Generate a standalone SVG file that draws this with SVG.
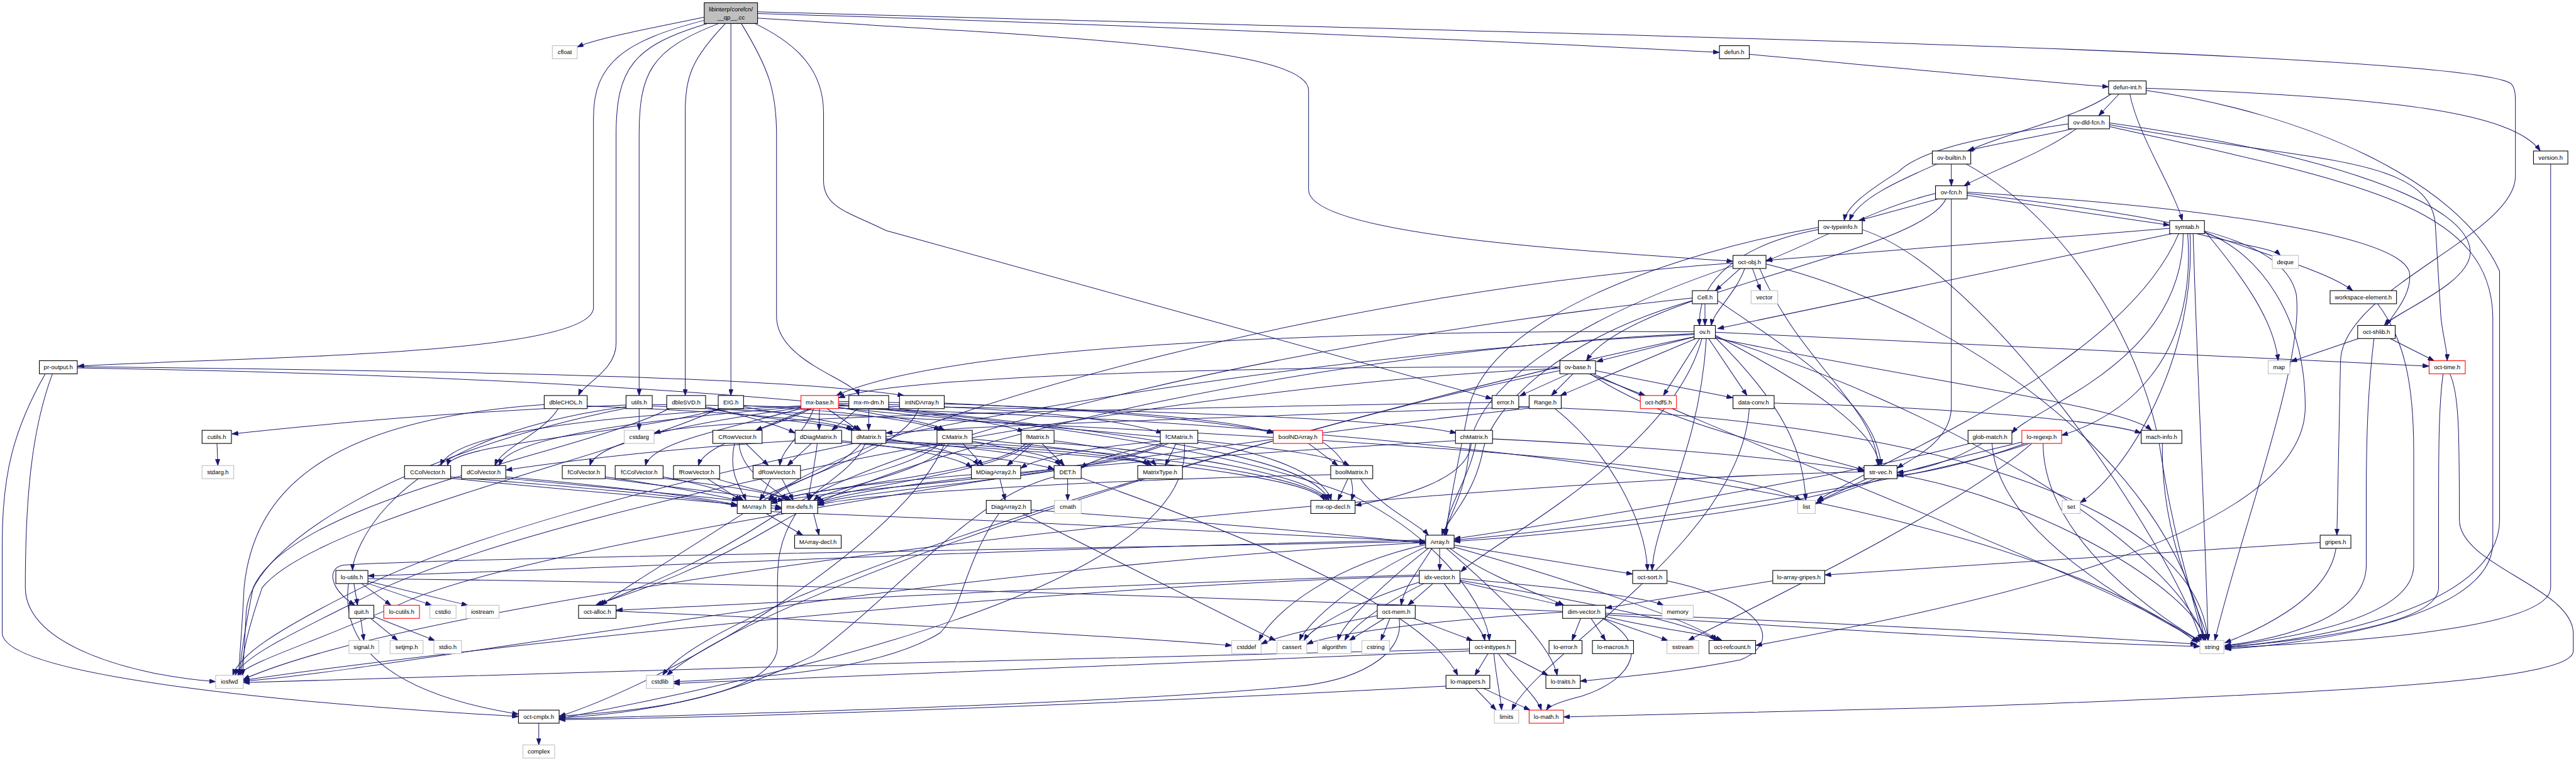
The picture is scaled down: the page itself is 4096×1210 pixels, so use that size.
<svg xmlns="http://www.w3.org/2000/svg" width="4096" height="1210" viewBox="0 0 4096 1210">
<style>
.n rect{fill:#fff;stroke:#000;stroke-width:1.5}
.n.x rect{stroke:#bfbfbf}
.n.t rect{stroke:#f00}
.n.r rect{fill:#bfbfbf}
.n text{font-family:"Liberation Sans",Arial,Helvetica,sans-serif;font-size:13.3px;text-anchor:middle;fill:#000}
.e path{fill:none;stroke:#191970;stroke-width:1.4;marker-end:url(#a)}
</style>
<defs>
<marker id="a" viewBox="0 0 14 10" refX="14" refY="5" markerWidth="14" markerHeight="10" markerUnits="userSpaceOnUse" orient="auto"><path d="M0,0 L14,5 L0,10 z" fill="#191970" stroke="#191970" stroke-width="1"/></marker>
</defs>
<rect width="4096" height="1210" fill="#fff"/>
<g transform="scale(0.71872)">
<g id="edges" class="e">
<path d="M1558,38 C1450,60 1320,85 1277,104"/>
<path d="M1562,44 C1380,90 1313,140 1313,260 L1313,680 C1313,790 500,790 172,810"/>
<path d="M1572,50 C1400,100 1363,150 1363,300 L1363,760 C1363,820 1290,850 1280,875"/>
<path d="M1590,52 C1440,110 1414,160 1414,300 L1414,875"/>
<path d="M1605,52 C1530,130 1516,170 1516,250 L1516,875"/>
<path d="M1617,52 L1617,875"/>
<path d="M1640,52 C1700,150 1718,200 1718,300 L1718,700 C1718,800 1890,840 1900,875"/>
<path d="M1670,52 C1770,100 1822,160 1822,250 L1822,400 C1822,460 1880,470 1960,510 L3301,882"/>
<path d="M1676,30 C2400,50 3400,95 3804,116"/>
<path d="M1676,26 C3200,70 5450,110 5555,185 C5565,195 5565,210 5565,230 L5565,390 C5565,520 5180,640 5178,800 L5170,1184"/>
<path d="M1676,40 C2300,80 2895,100 2895,200 L2895,420 C2895,520 3500,555 3834,578"/>
<path d="M3870,120 C4200,150 4500,180 4665,192"/>
<path d="M4670,208 C4600,260 4420,300 4355,334"/>
<path d="M4688,208 L4643,256"/>
<path d="M4712,208 C4730,300 4810,420 4828,488"/>
<path d="M4748,195 C5300,215 5560,250 5620,334"/>
<path d="M4748,200 C5100,250 5440,400 5530,600 L5530,1150 C5530,1350 5100,1420 4922,1431"/>
<path d="M5643,363 L5643,1300 C5643,1400 5100,1425 4922,1433"/>
<path d="M4585,285 C4500,305 4400,320 4352,334"/>
<path d="M4593,285 C4520,340 4400,380 4345,411"/>
<path d="M4576,274 C4400,300 4250,330 4200,380 C4120,430 4085,460 4080,488"/>
<path d="M4667,272 C5150,340 5470,450 5465,561 C5460,630 5300,690 5275,720"/>
<path d="M4667,276 C5100,360 5380,340 5388,500 L5400,700 C5405,750 5414,770 5414,798"/>
<path d="M4667,280 C5200,400 5510,450 5515,700 L5515,1200 C5515,1370 5100,1425 4922,1436"/>
<path d="M4317,363 L4317,411"/>
<path d="M4285,363 C4200,400 4110,440 4092,488"/>
<path d="M4350,363 C4600,500 4750,800 4780,1000 C4810,1200 4860,1350 4875,1417"/>
<path d="M4352,432 L4800,498"/>
<path d="M4288,440 L4112,488"/>
<path d="M4282,428 C4150,460 4050,520 3907,578"/>
<path d="M4305,440 C4250,560 3600,650 3510,798"/>
<path d="M4317,440 L4317,900 C4317,980 4220,1020 4197,1036"/>
<path d="M4352,425 C4900,460 5300,520 5330,600 C5340,650 5290,700 5280,720"/>
<path d="M4352,428 C4800,480 5050,520 5080,650 C5100,800 4950,1200 4900,1417"/>
<path d="M4800,505 C4500,530 4100,560 3907,576"/>
<path d="M4805,517 L3800,727"/>
<path d="M4860,517 C4950,540 5030,550 5045,565"/>
<path d="M4820,517 C4700,800 4200,1000 4020,1107"/>
<path d="M4877,510 C4950,600 5030,700 5040,798"/>
<path d="M4845,517 C4860,800 4700,1050 4602,1112"/>
<path d="M4852,517 C4860,800 4880,1200 4885,1417"/>
<path d="M4830,517 C4830,800 4500,900 4451,958"/>
<path d="M4840,517 C4860,800 4700,920 4561,963"/>
<path d="M4877,515 C5000,560 5150,600 5205,643"/>
<path d="M4877,513 C5000,560 5100,700 5100,900 C5100,1200 4300,1350 3884,1428"/>
<path d="M4023,508 C3850,540 3755,620 3760,720"/>
<path d="M4023,503 C3700,560 3300,700 3250,900 C3220,1050 3200,1150 3200,1184"/>
<path d="M4120,508 C4400,600 4800,1200 4870,1417"/>
<path d="M3850,594 L3795,643"/>
<path d="M3860,594 C3840,650 3790,690 3786,720"/>
<path d="M3877,594 L3895,643"/>
<path d="M3893,594 C3980,800 4150,900 4155,1030"/>
<path d="M3907,584 C4300,680 4800,1000 4878,1417"/>
<path d="M3834,588 C3500,700 3260,850 3250,1000 C3240,1100 3200,1150 3195,1184"/>
<path d="M3834,582 C3000,640 2000,900 1700,1100 C1500,1230 1380,1300 1330,1339"/>
<path d="M3772,672 L3772,720"/>
<path d="M3744,665 C3450,750 3300,900 3280,1000 C3260,1100 3200,1150 3190,1184"/>
<path d="M3744,659 C2900,750 2000,950 1700,1150 C1500,1280 1350,1320 1325,1339"/>
<path d="M3800,665 C4000,800 4150,900 4162,1030"/>
<path d="M3750,745 L3532,800"/>
<path d="M3752,749 L3452,875"/>
<path d="M3760,749 L3680,875"/>
<path d="M3780,749 L3865,875"/>
<path d="M3748,734 C3000,730 2100,760 1850,875"/>
<path d="M3795,735 L5374,810"/>
<path d="M3765,749 C3700,1000 3300,1200 3232,1265"/>
<path d="M3775,749 C3760,1000 3660,1150 3655,1262"/>
<path d="M3795,742 C4000,850 4150,950 4158,1030"/>
<path d="M3748,738 C3000,770 2050,960 1720,1160 C1500,1290 1360,1320 1318,1339"/>
<path d="M3795,745 C4300,900 4800,1200 4880,1417"/>
<path d="M3795,747 C3950,900 3990,1000 3995,1107"/>
<path d="M3748,740 C2500,800 1200,1100 800,1300 C600,1400 530,1450 515,1494"/>
<path d="M3748,745 C3000,900 1600,1300 1466,1494"/>
<path d="M3795,748 C4300,850 4700,900 4760,952"/>
<path d="M3470,827 L3362,876"/>
<path d="M3480,827 L3432,875"/>
<path d="M3515,827 L3640,875"/>
<path d="M3530,820 L3834,880"/>
<path d="M3451,812 C2800,810 2000,830 1855,880"/>
<path d="M3518,827 C3700,950 4000,1000 4124,1040"/>
<path d="M3525,827 C3900,1000 4700,1300 4868,1420"/>
<path d="M3451,815 C2600,850 1300,1100 850,1300 C650,1400 540,1450 520,1494"/>
<path d="M3451,820 C2800,950 1700,1300 1475,1494"/>
<path d="M3301,890 C2500,905 1600,920 1447,958"/>
<path d="M3360,900 C4200,920 4860,1100 4885,1417"/>
<path d="M3383,900 C2800,920 2200,940 1960,958"/>
<path d="M3440,904 C3560,1000 3640,1150 3645,1262"/>
<path d="M3383,903 C2500,1000 1200,1200 900,1330 C700,1420 560,1460 525,1494"/>
<path d="M3925,892 C4300,900 4650,930 4737,958"/>
<path d="M3870,904 C3850,1200 3400,1450 3345,1571"/>
<path d="M1772,898 C1300,920 1000,960 975,1030"/>
<path d="M1772,900 C1400,930 1120,970 1105,1030"/>
<path d="M1772,902 C1500,940 1320,980 1305,1030"/>
<path d="M1772,904 C1600,950 1440,980 1428,1030"/>
<path d="M1790,904 L1672,952"/>
<path d="M1795,904 C1700,950 1560,980 1545,1030"/>
<path d="M1800,904 C1780,960 1730,990 1725,1030"/>
<path d="M1813,904 L1812,952"/>
<path d="M1830,904 L1900,952"/>
<path d="M1850,900 C1950,920 2050,930 2090,952"/>
<path d="M1855,896 C2000,910 2200,930 2265,955"/>
<path d="M1855,892 C2200,900 2450,920 2572,958"/>
<path d="M1855,888 C2300,895 2700,920 2820,958"/>
<path d="M1855,902 C2300,950 2900,980 2985,1030"/>
<path d="M1855,898 C2600,905 3100,930 3222,958"/>
<path d="M1898,904 L1840,952"/>
<path d="M1922,904 L1922,952"/>
<path d="M1966,902 C2400,950 2900,1000 2940,1107"/>
<path d="M2032,904 C2000,1000 1750,1050 1700,1107"/>
<path d="M2089,892 C2500,910 2750,940 2817,958"/>
<path d="M1299,898 C1600,910 1850,930 1885,952"/>
<path d="M1235,904 C1200,960 1110,990 1095,1030"/>
<path d="M1204,895 C700,930 560,1100 540,1300 C535,1400 530,1450 528,1494"/>
<path d="M1561,900 C1650,920 1720,940 1759,958"/>
<path d="M1561,903 C1700,930 1860,940 1890,952"/>
<path d="M1480,904 C1300,1000 650,1100 560,1300 C540,1400 532,1460 530,1494"/>
<path d="M1645,900 C1750,920 1880,935 1905,952"/>
<path d="M1645,897 C1900,910 2050,935 2080,952"/>
<path d="M1595,904 C1400,960 1000,980 990,1030"/>
<path d="M1589,904 C1400,1000 700,1150 580,1300 C545,1400 535,1460 533,1494"/>
<path d="M1414,904 L1414,952"/>
<path d="M1385,896 C1000,910 700,940 513,960"/>
<path d="M1385,900 C1000,950 850,1100 800,1200 C785,1230 780,1250 780,1262"/>
<path d="M1385,903 C900,1000 560,1200 545,1350 L537,1494"/>
<path d="M1443,895 C2500,905 4300,1000 4862,1422"/>
<path d="M1443,898 C2500,950 3800,1000 3985,1107"/>
<path d="M116,827 C70,950 56,1100 56,1300 C56,1430 300,1495 477,1508"/>
<path d="M100,827 C30,950 5,1050 5,1200 L5,1400 C5,1500 700,1560 1147,1585"/>
<path d="M171,811 C900,820 1700,830 2000,875"/>
<path d="M171,814 C1200,830 2500,900 3000,1100 C3200,1200 3290,1350 3295,1417"/>
<path d="M480,981 L482,1030"/>
<path d="M1650,981 L1700,1030"/>
<path d="M1625,981 C1610,1050 1640,1080 1650,1107"/>
<path d="M1635,981 C1640,1050 1720,1080 1740,1107"/>
<path d="M1759,975 C1500,990 1250,1020 1119,1040"/>
<path d="M1795,981 L1742,1030"/>
<path d="M1808,981 C1800,1050 1790,1080 1788,1107"/>
<path d="M1862,975 C2000,990 2120,1010 2150,1035"/>
<path d="M1862,978 C2100,1000 2280,1020 2332,1038"/>
<path d="M1905,981 C1850,1050 1700,1080 1680,1107"/>
<path d="M1915,981 C1880,1050 1800,1080 1790,1107"/>
<path d="M1960,970 C2080,990 2150,1010 2165,1030"/>
<path d="M1960,973 C2150,990 2330,1010 2345,1030"/>
<path d="M1960,976 C2300,990 2520,1010 2540,1030"/>
<path d="M1960,979 C2400,1000 2900,1050 2930,1107"/>
<path d="M2080,981 C2000,1050 1750,1080 1700,1107"/>
<path d="M2100,981 C2050,1050 1830,1080 1800,1107"/>
<path d="M2130,981 L2175,1030"/>
<path d="M2151,976 C2250,995 2340,1010 2352,1030"/>
<path d="M2151,971 C2350,990 2520,1010 2548,1030"/>
<path d="M2151,980 C2500,1000 2900,1050 2935,1107"/>
<path d="M2090,981 C2000,1200 1500,1500 1237,1585"/>
<path d="M2270,981 C2200,1050 1780,1080 1705,1110"/>
<path d="M2280,981 C2200,1050 1850,1080 1805,1110"/>
<path d="M2285,981 L2228,1030"/>
<path d="M2305,981 L2355,1030"/>
<path d="M2332,975 C2450,990 2540,1010 2558,1030"/>
<path d="M2332,980 C2600,1000 2900,1050 2940,1107"/>
<path d="M2575,981 C2400,1060 1800,1080 1706,1114"/>
<path d="M2585,981 C2400,1060 1900,1080 1809,1116"/>
<path d="M2567,976 C2400,990 2290,1015 2258,1036"/>
<path d="M2570,981 C2480,1000 2410,1020 2392,1036"/>
<path d="M2602,981 L2578,1030"/>
<path d="M2650,978 C2800,1000 2930,1050 2945,1107"/>
<path d="M2620,981 C2650,1300 1700,1500 1237,1590"/>
<path d="M2895,981 L2960,1030"/>
<path d="M2926,978 C2990,1020 2998,1080 2990,1107"/>
<path d="M3255,981 C3250,1060 3100,1100 2998,1118"/>
<path d="M3302,971 C3700,990 4000,1020 4124,1042"/>
<path d="M3265,981 C3250,1060 3200,1120 3197,1184"/>
<path d="M3220,975 C2800,1000 2000,1050 1809,1112"/>
<path d="M2982,1059 L2960,1107"/>
<path d="M2944,1050 C2500,1060 1900,1090 1809,1118"/>
<path d="M3010,1059 C3050,1120 3140,1160 3160,1184"/>
<path d="M997,1055 C1300,1080 1550,1100 1631,1120"/>
<path d="M997,1058 C1300,1090 1600,1110 1729,1126"/>
<path d="M1119,1055 C1350,1075 1550,1100 1631,1117"/>
<path d="M1119,1058 C1400,1085 1650,1105 1729,1123"/>
<path d="M1339,1055 C1450,1070 1580,1095 1634,1107"/>
<path d="M1339,1058 C1500,1080 1680,1100 1735,1107"/>
<path d="M1467,1055 C1550,1070 1620,1090 1645,1107"/>
<path d="M1467,1058 C1600,1075 1720,1090 1745,1107"/>
<path d="M1565,1059 L1640,1107"/>
<path d="M1585,1059 C1650,1080 1730,1095 1750,1107"/>
<path d="M1705,1059 L1682,1107"/>
<path d="M1730,1059 L1755,1107"/>
<path d="M2212,1059 L2224,1107"/>
<path d="M2149,1050 C1900,1070 1750,1095 1706,1110"/>
<path d="M2362,1059 L2362,1107"/>
<path d="M2332,1055 C2150,1100 2000,1300 1800,1450 C1600,1550 1400,1580 1237,1588"/>
<path d="M2392,1057 C2800,1200 3150,1350 3225,1494"/>
<path d="M1695,1136 L1776,1184"/>
<path d="M1706,1132 C2200,1150 2900,1185 3154,1198"/>
<path d="M1800,1136 L1812,1184"/>
<path d="M1761,1136 C1720,1200 1720,1250 1720,1300 L1720,1430 C1720,1520 1500,1570 1237,1584"/>
<path d="M2281,1128 C2600,1150 2950,1180 3154,1202"/>
<path d="M2210,1136 C2130,1250 2130,1350 2080,1400 C1950,1480 1700,1500 1490,1508"/>
<path d="M2262,1136 L2822,1417"/>
<path d="M3185,1213 L3185,1262"/>
<path d="M3217,1206 L3612,1270"/>
<path d="M3168,1213 C3140,1260 3105,1300 3100,1339"/>
<path d="M3208,1213 C3280,1270 3420,1320 3460,1339"/>
<path d="M3200,1213 C3300,1300 3430,1420 3445,1494"/>
<path d="M3217,1210 C3500,1290 3760,1380 3800,1417"/>
<path d="M3154,1210 C3000,1280 2890,1380 2875,1417"/>
<path d="M3160,1213 C3050,1300 2970,1380 2960,1417"/>
<path d="M3154,1205 C2950,1250 2820,1350 2785,1417"/>
<path d="M3154,1200 C2000,1260 900,1480 538,1507"/>
<path d="M3154,1195 C2300,1210 1300,1260 814,1274"/>
<path d="M3154,1198 C2000,1220 1000,1235 760,1250 C725,1255 725,1300 785,1339"/>
<path d="M3230,1287 L3455,1339"/>
<path d="M3170,1291 L3115,1339"/>
<path d="M3195,1291 C3230,1340 3280,1390 3285,1417"/>
<path d="M3230,1284 C3500,1330 3760,1380 3795,1417"/>
<path d="M3230,1280 C3450,1300 3640,1320 3680,1339"/>
<path d="M3140,1288 C3000,1330 2900,1390 2885,1417"/>
<path d="M3150,1291 C3050,1340 2990,1390 2975,1417"/>
<path d="M3140,1275 C2200,1300 900,1450 538,1505"/>
<path d="M3140,1272 C2500,1290 1800,1330 1363,1350"/>
<path d="M3688,1285 C3900,1330 3950,1420 3850,1460 C3700,1490 3560,1500 3496,1507"/>
<path d="M3922,1285 L3552,1345"/>
<path d="M5133,1200 L4037,1272"/>
<path d="M5168,1213 C5150,1330 4980,1400 4922,1422"/>
<path d="M3047,1362 C2900,1390 2820,1410 2790,1425"/>
<path d="M3063,1368 L2985,1417"/>
<path d="M3075,1368 L3055,1417"/>
<path d="M3128,1368 L3258,1417"/>
<path d="M3095,1368 C3110,1450 3000,1510 2850,1520 C2400,1560 1600,1580 1237,1590"/>
<path d="M3457,1354 C3200,1370 2950,1400 2891,1425"/>
<path d="M3497,1368 L3478,1417"/>
<path d="M3520,1368 L3552,1417"/>
<path d="M3548,1368 L3690,1417"/>
<path d="M3552,1364 C3650,1390 3770,1400 3810,1417"/>
<path d="M3545,1368 C3650,1420 3620,1500 3500,1540 C3440,1555 3425,1565 3421,1571"/>
<path d="M3552,1360 C4000,1390 4500,1420 4867,1430"/>
<path d="M3292,1446 L3263,1494"/>
<path d="M3305,1446 C3310,1500 3320,1540 3322,1571"/>
<path d="M3315,1446 C3350,1500 3400,1540 3410,1571"/>
<path d="M3332,1446 L3425,1494"/>
<path d="M3251,1436 C2500,1450 1200,1490 538,1510"/>
<path d="M3251,1440 C2700,1460 1900,1500 1490,1512"/>
<path d="M3199,1518 C2600,1550 1800,1585 1237,1592"/>
<path d="M3264,1523 L3310,1571"/>
<path d="M3282,1523 L3385,1571"/>
<path d="M1192,1600 L1192,1648"/>
<path d="M783,1291 L791,1339"/>
<path d="M800,1291 L865,1339"/>
<path d="M812,1290 L955,1339"/>
<path d="M814,1286 L1035,1339"/>
<path d="M771,1291 C750,1450 900,1540 1147,1580"/>
<path d="M814,1280 C2500,1300 4200,1380 4860,1425"/>
<path d="M798,1368 L805,1417"/>
<path d="M820,1368 L880,1417"/>
<path d="M827,1364 L962,1417"/>
<path d="M1363,1352 C2000,1380 2500,1410 2725,1428"/>
<path d="M4131,1059 L4020,1110"/>
<path d="M4150,1059 C4000,1120 3500,1180 3217,1198"/>
<path d="M4124,1044 C3000,1070 1000,1300 538,1503"/>
<path d="M4197,1050 C4500,1100 4850,1300 4880,1417"/>
<path d="M4358,981 C4100,1050 3500,1150 3217,1192"/>
<path d="M4385,981 C4320,1020 4250,1040 4197,1045"/>
<path d="M4407,981 C4420,1200 4800,1380 4870,1420"/>
<path d="M4473,978 C4250,1030 4080,1080 4016,1115"/>
<path d="M4490,981 C4200,1080 3500,1170 3217,1195"/>
<path d="M4495,981 C4300,1150 3800,1380 3735,1417"/>
<path d="M4480,981 C4350,1030 4230,1050 4197,1052"/>
<path d="M4520,981 C4520,1200 4800,1380 4872,1420"/>
<path d="M4784,981 C4780,1200 4870,1350 4885,1417"/>
<path d="M5260,672 C5320,750 5340,850 5340,1000 L5340,1250 C5340,1380 5000,1420 4922,1430"/>
<path d="M5218,749 L5068,800"/>
<path d="M5288,749 L5385,798"/>
<path d="M5252,749 C5240,850 5235,950 5235,1100 L5235,1250 C5235,1380 5000,1420 4922,1428"/>
<path d="M5405,827 C5395,900 5395,1000 5395,1150 L5395,1300 C5395,1390 5050,1420 4922,1432"/>
<path d="M5420,827 C5440,870 5441,950 5441,1150 C5441,1250 5690,1300 5693,1400 L5693,1440 C5693,1500 5300,1530 4275,1566 C3800,1580 3600,1585 3459,1586"/>
</g>
<g id="n-root" class="n r"><rect x="1558" y="6" width="118" height="46"/><text x="1617" y="25">libinterp/corefcn/</text><text x="1617" y="43">__qp__.cc</text></g>
<g id="n-cfloat" class="n x"><rect x="1222" y="101" width="55" height="29"/><text x="1249.5" y="120">cfloat</text></g>
<g id="n-defun" class="n"><rect x="3804" y="101" width="66" height="29"/><text x="3837" y="120">defun.h</text></g>
<g id="n-defun-int" class="n"><rect x="4665" y="179" width="83" height="29"/><text x="4706.5" y="198">defun-int.h</text></g>
<g id="n-ov-dld-fcn" class="n"><rect x="4576" y="256" width="91" height="29"/><text x="4621.5" y="275">ov-dld-fcn.h</text></g>
<g id="n-ov-builtin" class="n"><rect x="4275" y="334" width="85" height="29"/><text x="4317.5" y="353">ov-builtin.h</text></g>
<g id="n-version" class="n"><rect x="5605" y="334" width="76" height="29"/><text x="5643" y="353">version.h</text></g>
<g id="n-ov-fcn" class="n"><rect x="4282" y="411" width="70" height="29"/><text x="4317" y="430">ov-fcn.h</text></g>
<g id="n-ov-typeinfo" class="n"><rect x="4023" y="488" width="97" height="29"/><text x="4071.5" y="507">ov-typeinfo.h</text></g>
<g id="n-symtab" class="n"><rect x="4800" y="488" width="77" height="29"/><text x="4838.5" y="507">symtab.h</text></g>
<g id="n-oct-obj" class="n"><rect x="3834" y="565" width="73" height="29"/><text x="3870.5" y="584">oct-obj.h</text></g>
<g id="n-deque" class="n x"><rect x="5027" y="565" width="58" height="29"/><text x="5056" y="584">deque</text></g>
<g id="n-Cell" class="n"><rect x="3744" y="643" width="56" height="29"/><text x="3772" y="662">Cell.h</text></g>
<g id="n-vector" class="n x"><rect x="3874" y="643" width="59" height="29"/><text x="3903.5" y="662">vector</text></g>
<g id="n-workspace-element" class="n"><rect x="5155" y="643" width="147" height="29"/><text x="5228.5" y="662">workspace-element.h</text></g>
<g id="n-ov" class="n"><rect x="3748" y="720" width="47" height="29"/><text x="3771.5" y="739">ov.h</text></g>
<g id="n-oct-shlib" class="n"><rect x="5216" y="720" width="83" height="29"/><text x="5257.5" y="739">oct-shlib.h</text></g>
<g id="n-pr-output" class="n"><rect x="87" y="798" width="84" height="29"/><text x="129" y="817">pr-output.h</text></g>
<g id="n-ov-base" class="n"><rect x="3451" y="798" width="79" height="29"/><text x="3490.5" y="817">ov-base.h</text></g>
<g id="n-map" class="n x"><rect x="5018" y="798" width="48" height="29"/><text x="5042" y="817">map</text></g>
<g id="n-oct-time" class="n t"><rect x="5374" y="798" width="80" height="29"/><text x="5414" y="817">oct-time.h</text></g>
<g id="n-dbleCHOL" class="n"><rect x="1204" y="875" width="95" height="29"/><text x="1251.5" y="894">dbleCHOL.h</text></g>
<g id="n-utils" class="n"><rect x="1385" y="875" width="58" height="29"/><text x="1414" y="894">utils.h</text></g>
<g id="n-dbleSVD" class="n"><rect x="1475" y="875" width="86" height="29"/><text x="1518" y="894">dbleSVD.h</text></g>
<g id="n-EIG" class="n"><rect x="1589" y="875" width="56" height="29"/><text x="1617" y="894">EIG.h</text></g>
<g id="n-mx-base" class="n t"><rect x="1772" y="875" width="83" height="29"/><text x="1813.5" y="894">mx-base.h</text></g>
<g id="n-mx-m-dm" class="n"><rect x="1878" y="875" width="88" height="29"/><text x="1922" y="894">mx-m-dm.h</text></g>
<g id="n-intNDArray" class="n"><rect x="1990" y="875" width="99" height="29"/><text x="2039.5" y="894">intNDArray.h</text></g>
<g id="n-error" class="n"><rect x="3301" y="875" width="59" height="29"/><text x="3330.5" y="894">error.h</text></g>
<g id="n-Range" class="n"><rect x="3383" y="875" width="71" height="29"/><text x="3418.5" y="894">Range.h</text></g>
<g id="n-oct-hdf5" class="n t"><rect x="3629" y="875" width="80" height="29"/><text x="3669" y="894">oct-hdf5.h</text></g>
<g id="n-data-conv" class="n"><rect x="3834" y="875" width="91" height="29"/><text x="3879.5" y="894">data-conv.h</text></g>
<g id="n-cutils" class="n"><rect x="447" y="952" width="65" height="29"/><text x="479.5" y="971">cutils.h</text></g>
<g id="n-cstdarg" class="n x"><rect x="1381" y="952" width="66" height="29"/><text x="1414" y="971">cstdarg</text></g>
<g id="n-CRowVector" class="n"><rect x="1577" y="952" width="109" height="29"/><text x="1631.5" y="971">CRowVector.h</text></g>
<g id="n-dDiagMatrix" class="n"><rect x="1759" y="952" width="103" height="29"/><text x="1810.5" y="971">dDiagMatrix.h</text></g>
<g id="n-dMatrix" class="n"><rect x="1884" y="952" width="76" height="29"/><text x="1922" y="971">dMatrix.h</text></g>
<g id="n-CMatrix" class="n"><rect x="2073" y="952" width="78" height="29"/><text x="2112" y="971">CMatrix.h</text></g>
<g id="n-fMatrix" class="n"><rect x="2259" y="952" width="73" height="29"/><text x="2295.5" y="971">fMatrix.h</text></g>
<g id="n-fCMatrix" class="n"><rect x="2567" y="952" width="83" height="29"/><text x="2608.5" y="971">fCMatrix.h</text></g>
<g id="n-boolNDArray" class="n t"><rect x="2817" y="952" width="109" height="29"/><text x="2871.5" y="971">boolNDArray.h</text></g>
<g id="n-chMatrix" class="n"><rect x="3220" y="952" width="82" height="29"/><text x="3261" y="971">chMatrix.h</text></g>
<g id="n-glob-match" class="n"><rect x="4354" y="952" width="97" height="29"/><text x="4402.5" y="971">glob-match.h</text></g>
<g id="n-lo-regexp" class="n t"><rect x="4473" y="952" width="88" height="29"/><text x="4517" y="971">lo-regexp.h</text></g>
<g id="n-mach-info" class="n"><rect x="4737" y="952" width="90" height="29"/><text x="4782" y="971">mach-info.h</text></g>
<g id="n-stdarg" class="n x"><rect x="447" y="1030" width="70" height="29"/><text x="482" y="1049">stdarg.h</text></g>
<g id="n-CColVector" class="n"><rect x="895" y="1030" width="102" height="29"/><text x="946" y="1049">CColVector.h</text></g>
<g id="n-dColVector" class="n"><rect x="1021" y="1030" width="98" height="29"/><text x="1070" y="1049">dColVector.h</text></g>
<g id="n-fColVector" class="n"><rect x="1244" y="1030" width="95" height="29"/><text x="1291.5" y="1049">fColVector.h</text></g>
<g id="n-fCColVector" class="n"><rect x="1361" y="1030" width="106" height="29"/><text x="1414" y="1049">fCColVector.h</text></g>
<g id="n-fRowVector" class="n"><rect x="1490" y="1030" width="102" height="29"/><text x="1541" y="1049">fRowVector.h</text></g>
<g id="n-dRowVector" class="n"><rect x="1666" y="1030" width="105" height="29"/><text x="1718.5" y="1049">dRowVector.h</text></g>
<g id="n-MDiagArray2" class="n"><rect x="2149" y="1030" width="109" height="29"/><text x="2203.5" y="1049">MDiagArray2.h</text></g>
<g id="n-DET" class="n"><rect x="2332" y="1030" width="60" height="29"/><text x="2362" y="1049">DET.h</text></g>
<g id="n-MatrixType" class="n"><rect x="2517" y="1030" width="99" height="29"/><text x="2566.5" y="1049">MatrixType.h</text></g>
<g id="n-boolMatrix" class="n"><rect x="2944" y="1030" width="93" height="29"/><text x="2990.5" y="1049">boolMatrix.h</text></g>
<g id="n-str-vec" class="n"><rect x="4124" y="1030" width="73" height="29"/><text x="4160.5" y="1049">str-vec.h</text></g>
<g id="n-MArray" class="n"><rect x="1631" y="1107" width="75" height="29"/><text x="1668.5" y="1126">MArray.h</text></g>
<g id="n-mx-defs" class="n"><rect x="1729" y="1107" width="80" height="29"/><text x="1769" y="1126">mx-defs.h</text></g>
<g id="n-DiagArray2" class="n"><rect x="2182" y="1107" width="99" height="29"/><text x="2231.5" y="1126">DiagArray2.h</text></g>
<g id="n-cmath" class="n x"><rect x="2333" y="1107" width="59" height="29"/><text x="2362.5" y="1126">cmath</text></g>
<g id="n-mx-op-decl" class="n"><rect x="2900" y="1107" width="98" height="29"/><text x="2949" y="1126">mx-op-decl.h</text></g>
<g id="n-list" class="n x"><rect x="3977" y="1107" width="39" height="29"/><text x="3996.5" y="1126">list</text></g>
<g id="n-set" class="n x"><rect x="4562" y="1107" width="40" height="29"/><text x="4582" y="1126">set</text></g>
<g id="n-MArray-decl" class="n"><rect x="1758" y="1184" width="103" height="29"/><text x="1809.5" y="1203">MArray-decl.h</text></g>
<g id="n-Array" class="n"><rect x="3154" y="1184" width="63" height="29"/><text x="3185.5" y="1203">Array.h</text></g>
<g id="n-gripes" class="n"><rect x="5133" y="1184" width="68" height="29"/><text x="5167" y="1203">gripes.h</text></g>
<g id="n-lo-utils" class="n"><rect x="743" y="1262" width="71" height="29"/><text x="778.5" y="1281">lo-utils.h</text></g>
<g id="n-idx-vector" class="n"><rect x="3140" y="1262" width="90" height="29"/><text x="3185" y="1281">idx-vector.h</text></g>
<g id="n-oct-sort" class="n"><rect x="3612" y="1262" width="76" height="29"/><text x="3650" y="1281">oct-sort.h</text></g>
<g id="n-lo-array-gripes" class="n"><rect x="3922" y="1262" width="115" height="29"/><text x="3979.5" y="1281">lo-array-gripes.h</text></g>
<g id="n-quit" class="n"><rect x="772" y="1339" width="55" height="29"/><text x="799.5" y="1358">quit.h</text></g>
<g id="n-lo-cutils" class="n t"><rect x="849" y="1339" width="79" height="29"/><text x="888.5" y="1358">lo-cutils.h</text></g>
<g id="n-cstdio" class="n x"><rect x="951" y="1339" width="58" height="29"/><text x="980" y="1358">cstdio</text></g>
<g id="n-iostream" class="n x"><rect x="1031" y="1339" width="73" height="29"/><text x="1067.5" y="1358">iostream</text></g>
<g id="n-oct-alloc" class="n"><rect x="1280" y="1339" width="83" height="29"/><text x="1321.5" y="1358">oct-alloc.h</text></g>
<g id="n-oct-mem" class="n"><rect x="3047" y="1339" width="84" height="29"/><text x="3089" y="1358">oct-mem.h</text></g>
<g id="n-dim-vector" class="n"><rect x="3457" y="1339" width="95" height="29"/><text x="3504.5" y="1358">dim-vector.h</text></g>
<g id="n-memory" class="n x"><rect x="3677" y="1339" width="69" height="29"/><text x="3711.5" y="1358">memory</text></g>
<g id="n-signal" class="n x"><rect x="772" y="1417" width="66" height="29"/><text x="805" y="1436">signal.h</text></g>
<g id="n-setjmp" class="n x"><rect x="863" y="1417" width="73" height="29"/><text x="899.5" y="1436">setjmp.h</text></g>
<g id="n-stdio" class="n x"><rect x="960" y="1417" width="61" height="29"/><text x="990.5" y="1436">stdio.h</text></g>
<g id="n-cstddef" class="n x"><rect x="2725" y="1417" width="65" height="29"/><text x="2757.5" y="1436">cstddef</text></g>
<g id="n-cassert" class="n x"><rect x="2825" y="1417" width="66" height="29"/><text x="2858" y="1436">cassert</text></g>
<g id="n-algorithm" class="n x"><rect x="2915" y="1417" width="74" height="29"/><text x="2952" y="1436">algorithm</text></g>
<g id="n-cstring" class="n x"><rect x="3013" y="1417" width="61" height="29"/><text x="3043.5" y="1436">cstring</text></g>
<g id="n-oct-inttypes" class="n"><rect x="3251" y="1417" width="102" height="29"/><text x="3302" y="1436">oct-inttypes.h</text></g>
<g id="n-lo-error" class="n"><rect x="3427" y="1417" width="73" height="29"/><text x="3463.5" y="1436">lo-error.h</text></g>
<g id="n-lo-macros" class="n"><rect x="3523" y="1417" width="91" height="29"/><text x="3568.5" y="1436">lo-macros.h</text></g>
<g id="n-sstream" class="n x"><rect x="3688" y="1417" width="70" height="29"/><text x="3723" y="1436">sstream</text></g>
<g id="n-oct-refcount" class="n"><rect x="3781" y="1417" width="103" height="29"/><text x="3832.5" y="1436">oct-refcount.h</text></g>
<g id="n-string" class="n x"><rect x="4867" y="1417" width="53" height="29"/><text x="4893.5" y="1436">string</text></g>
<g id="n-iosfwd" class="n x"><rect x="477" y="1494" width="61" height="29"/><text x="507.5" y="1513">iosfwd</text></g>
<g id="n-cstdlib" class="n x"><rect x="1430" y="1494" width="60" height="29"/><text x="1460" y="1513">cstdlib</text></g>
<g id="n-lo-mappers" class="n"><rect x="3199" y="1494" width="97" height="29"/><text x="3247.5" y="1513">lo-mappers.h</text></g>
<g id="n-lo-traits" class="n"><rect x="3420" y="1494" width="76" height="29"/><text x="3458" y="1513">lo-traits.h</text></g>
<g id="n-oct-cmplx" class="n"><rect x="1147" y="1571" width="90" height="29"/><text x="1192" y="1590">oct-cmplx.h</text></g>
<g id="n-limits" class="n x"><rect x="3306" y="1571" width="54" height="29"/><text x="3333" y="1590">limits</text></g>
<g id="n-lo-math" class="n t"><rect x="3383" y="1571" width="76" height="29"/><text x="3421" y="1590">lo-math.h</text></g>
<g id="n-complex" class="n x"><rect x="1157" y="1648" width="70" height="29"/><text x="1192" y="1667">complex</text></g>
</g>
</svg>
